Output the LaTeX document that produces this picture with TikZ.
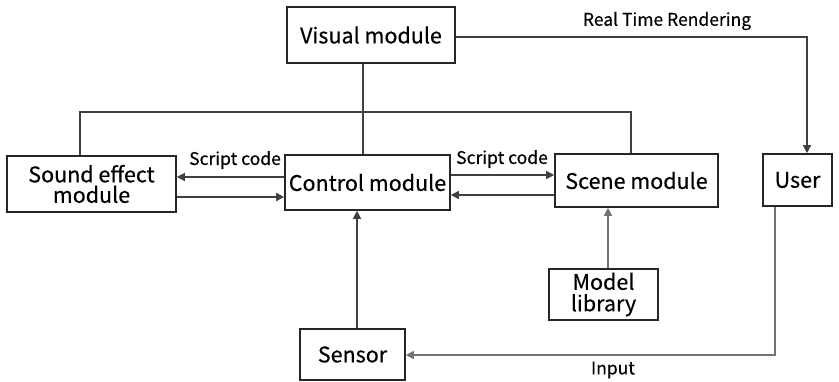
\documentclass[tikz,border=0pt]{standalone}
\usepackage{fontspec}
\setmainfont[FakeBold=0.4]{Noto Sans CJK KR}
\usetikzlibrary{arrows.meta}
\begin{document}
\begin{tikzpicture}[x=1pt,y=-1pt,
  box/.style={draw=black!85,line width=1.6pt,fill=white,inner sep=0pt,align=center,font=\fontsize{21.5}{20.5}\selectfont},
  link/.style={draw=black!75,line width=1.3pt},
  arr/.style={link,-{Triangle[length=8pt,width=8pt]}},
  lbl/.style={font=\fontsize{17.5}{18}\selectfont,inner sep=1pt}]
\useasboundingbox (0,0) rectangle (839,381);
% module boxes
\node[box,minimum width=168pt,minimum height=56pt] (visual) at (371,35) {Visual module};
\node[box,minimum width=169pt,minimum height=56pt] (sound) at (91.5,184) {Sound effect\\module};
\node[box,minimum width=165pt,minimum height=55pt] (control) at (367.5,182.5) {Control module};
\node[box,minimum width=163pt,minimum height=53pt] (scene) at (636.5,180.5) {Scene module};
\node[box,minimum width=69pt,minimum height=52pt] (user) at (797.5,180) {User};
\node[box,minimum width=105pt,minimum height=51pt] (sensor) at (352.5,354.5) {Sensor};
\node[box,minimum width=109pt,minimum height=51pt] (model) at (603.5,294.5) {Model\\[1pt]library};
% shared bus from the visual module
\coordinate (busL) at (80,112);
\coordinate (busR) at (631,112);
\coordinate (busM) at (363,112);
\draw[link] (visual.south -| busM) -- (control.north -| busM);
\draw[link] (sound.north -| busL) -- (busL) -- (busR) -- (scene.north -| busR);
% script code exchanges
\draw[arr] (control.west |- 0,177) -- (sound.east |- 0,177);
\draw[arr] (sound.east |- 0,197) -- (control.west |- 0,197);
\draw[arr] (control.east |- 0,175) -- (scene.west |- 0,175);
\draw[arr] (scene.west |- 0,195) -- (control.east |- 0,195);
\node[lbl] (sc1) at (235,160) {Script code};
\node[lbl] (sc2) at (502,159) {Script code};
% rendering to the user
\coordinate (rtr) at (807,37);
\draw[arr] (visual.east |- rtr) -- (rtr) -- (user.north -| rtr);
\node[lbl] (rtrl) at (667,21) {Real Time Rendering};
% sensor and model library inputs
\draw[arr] (sensor.north -| 357,0) -- (control.south -| 357,0);
\draw[arr,draw=black!55] (model.north -| 608,0) -- (scene.south -| 608,0);
% user input back to the sensor
\coordinate (inp) at (775,355);
\draw[arr,draw=black!55] (user.south -| inp) -- (inp) -- (sensor.east |- inp);
\node[lbl] (inl) at (613,370) {Input};
\end{tikzpicture}
\end{document}
